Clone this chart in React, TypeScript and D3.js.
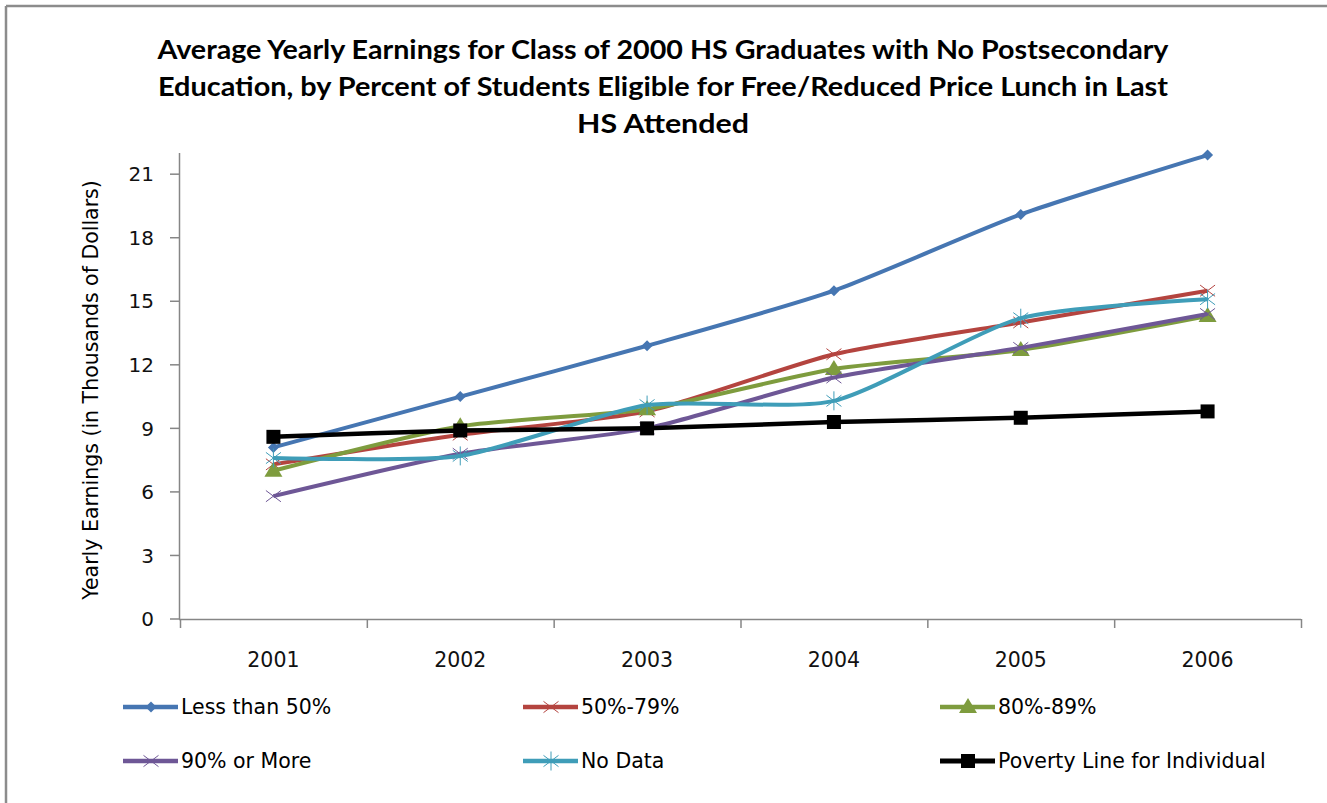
import { useEffect } from "react";
import * as d3 from "d3";

const years = ["2001", "2002", "2003", "2004", "2005", "2006"];
const yTicks = [0, 3, 6, 9, 12, 15, 18, 21];

const lessThan50 = [8.1, 10.5, 12.9, 15.5, 19.1, 21.9];
const pct50to79 = [7.3, 8.7, 9.8, 12.5, 14.0, 15.5];
const pct80to89 = [7.0, 9.1, 9.9, 11.8, 12.7, 14.3];
const pct90plus = [5.8, 7.8, 9.0, 11.4, 12.8, 14.4];
const noData = [7.6, 7.7, 10.1, 10.3, 14.2, 15.1];
const povertyLine = [8.6, 8.9, 9.0, 9.3, 9.5, 9.8];

const titleLines = [
  "Average Yearly Earnings for Class of 2000 HS Graduates with No Postsecondary",
  "Education, by Percent of Students Eligible for Free/Reduced Price Lunch in Last",
  "HS Attended",
];
const titleWidths = [1011, 1010, 172];

type Marker = "diamond" | "x" | "triangle" | "star" | "square";

const series: { name: string; values: number[]; color: string; marker: Marker }[] = [
  { name: "Less than 50%", values: lessThan50, color: "#4676b2", marker: "diamond" },
  { name: "50%-79%", values: pct50to79, color: "#b4443f", marker: "x" },
  { name: "80%-89%", values: pct80to89, color: "#7e9c3e", marker: "triangle" },
  { name: "90% or More", values: pct90plus, color: "#6e5796", marker: "x" },
  { name: "No Data", values: noData, color: "#3f9db8", marker: "star" },
  { name: "Poverty Line for Individual", values: povertyLine, color: "#000000", marker: "square" },
];

const W = 1327;
const H = 803;
const font = "'DejaVu Sans', sans-serif";
const titleFont = "Lato, 'Open Sans', sans-serif";

const x = d3.scaleBand().domain(years).range([180, 1301]);
const y = d3.scaleLinear().domain([0, 22]).range([619, 153]);
const cx = (yr: string) => (x(yr) || 0) + x.bandwidth() / 2;

const line = d3
  .line<number>()
  .x((_, i) => cx(years[i]))
  .y((v) => y(v))
  .curve(d3.curveCardinal.tension(0.35));

function MarkerShape({ kind, color, px, py }: { kind: Marker; color: string; px: number; py: number }) {
  if (kind === "diamond") {
    const r = 5.5;
    return <path d={`M${px},${py - r}L${px + r},${py}L${px},${py + r}L${px - r},${py}Z`} fill={color} />;
  }
  if (kind === "square") {
    return <rect x={px - 7} y={py - 7} width={14} height={14} fill={color} />;
  }
  if (kind === "triangle") {
    return <path d={`M${px},${py - 9}L${px + 9},${py + 6}L${px - 9},${py + 6}Z`} fill={color} />;
  }
  const r = 7.5;
  return (
    <g stroke={color} strokeWidth={1}>
      <line x1={px - r} y1={py - r * 0.75} x2={px + r} y2={py + r * 0.75} />
      <line x1={px - r} y1={py + r * 0.75} x2={px + r} y2={py - r * 0.75} />
      {kind === "star" && <line x1={px} y1={py - r - 2} x2={px} y2={py + r + 2} />}
    </g>
  );
}

const legendCols = [123, 523, 940];
const legendRows = [707, 761];

export default function App() {
  useEffect(() => {
    document.body.style.margin = "0";
    document.documentElement.style.overflow = "hidden";
  }, []);

  return (
    <svg width={W} height={H} style={{ position: "absolute", left: 0, top: 0, background: "#fff", display: "block" }}>
      {/* outer chart frame: only top and left edges show */}
      <line x1={6} x2={W} y1={6} y2={6} stroke="#8c8c8c" strokeWidth={2.5} />
      <line x1={6} x2={6} y1={6} y2={H} stroke="#8c8c8c" strokeWidth={2.5} />

      {titleLines.map((t, i) => (
        <text
          key={i}
          x={663}
          y={59 + i * 37}
          textAnchor="middle"
          fontFamily={titleFont}
          fontWeight="bold"
          fontSize={26}
          fill="#000"
          textLength={titleWidths[i]}
          lengthAdjust="spacingAndGlyphs"
        >
          {t}
        </text>
      ))}

      {/* y axis */}
      <line x1={179.5} x2={179.5} y1={y(22)} y2={y(0)} stroke="#868686" strokeWidth={1.5} />
      {yTicks.map((t) => (
        <g key={t}>
          <line x1={170} x2={180} y1={y(t)} y2={y(t)} stroke="#868686" strokeWidth={1.5} />
          <text x={154} y={y(t)} dy="0.36em" textAnchor="end" fontFamily={font} fontSize={20} fill="#111">
            {t}
          </text>
        </g>
      ))}
      <text
        transform={`translate(98,${(y(0) + y(22)) / 2 + 4}) rotate(-90)`}
        textAnchor="middle"
        fontFamily={font}
        fontSize={20.5}
        fill="#000"
      >
        Yearly Earnings (in Thousands of Dollars)
      </text>

      {/* x axis */}
      <line x1={179} x2={1301} y1={y(0) + 0.5} y2={y(0) + 0.5} stroke="#868686" strokeWidth={1.5} />
      {[...years.map((yr) => x(yr) || 0), 1301].map((p, i) => (
        <line key={i} x1={p + 0.5} x2={p + 0.5} y1={y(0)} y2={y(0) + 9} stroke="#868686" strokeWidth={1.5} />
      ))}
      {years.map((yr) => (
        <text key={yr} x={cx(yr)} y={660} dy="0.36em" textAnchor="middle" fontFamily={font} fontSize={20.5} fill="#111">
          {yr}
        </text>
      ))}

      {/* series */}
      {series.map((s) => (
        <g key={s.name}>
          <path d={line(s.values) || ""} fill="none" stroke={s.color} strokeWidth={s.marker === "square" ? 4.5 : 4} />
          {s.values.map((v, i) => (
            <MarkerShape key={i} kind={s.marker} color={s.color} px={cx(years[i])} py={y(v)} />
          ))}
        </g>
      ))}

      {/* legend */}
      {series.map((s, i) => {
        const lx = legendCols[i % 3];
        const ly = legendRows[Math.floor(i / 3)];
        return (
          <g key={s.name}>
            <line x1={lx} x2={lx + 55} y1={ly} y2={ly} stroke={s.color} strokeWidth={s.marker === "square" ? 5 : 4.5} />
            <MarkerShape kind={s.marker} color={s.color} px={lx + 28} py={ly} />
            <text x={lx + 58} y={ly} dy="0.36em" fontFamily={font} fontSize={20.5} fill="#000">
              {s.name}
            </text>
          </g>
        );
      })}
    </svg>
  );
}
